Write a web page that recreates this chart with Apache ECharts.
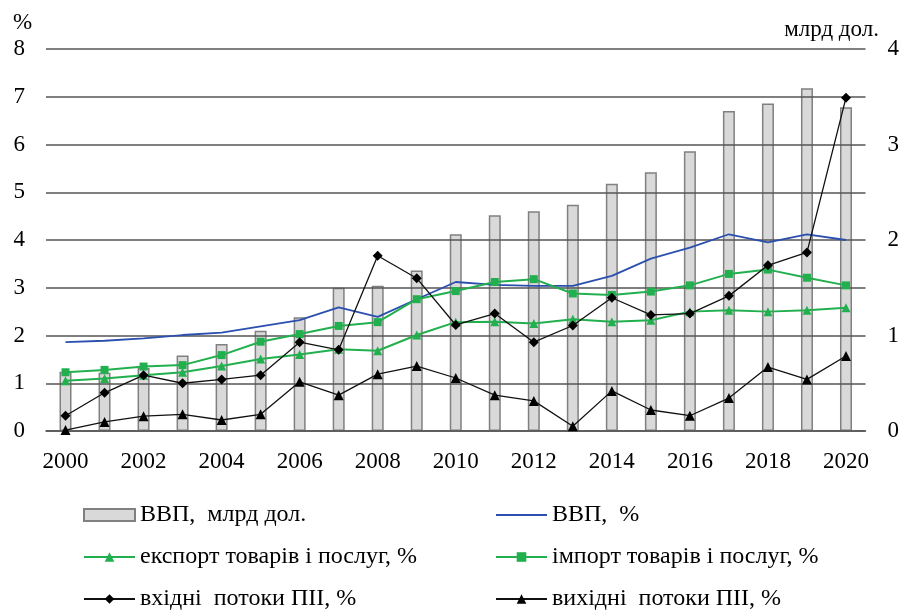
<!DOCTYPE html>
<html>
<head>
<meta charset="utf-8">
<script src="https://cdn.jsdelivr.net/npm/echarts@6/dist/echarts.min.js"></script>
<style>
  html, body { margin: 0; padding: 0; background: #fff; }
  #chart { width: 902px; height: 610px; }
</style>
</head>
<body>
<div id="chart"></div>
<script>
const years = ['2000', '2001', '2002', '2003', '2004', '2005', '2006', '2007', '2008', '2009', '2010',
  '2011', '2012', '2013', '2014', '2015', '2016', '2017', '2018', '2019', '2020']

// ВВП, млрд дол. (права вісь)
const gdpBn = [0.62, 0.61, 0.66, 0.79, 0.91, 1.05, 1.19, 1.50, 1.52, 1.68, 2.06,
  2.26, 2.30, 2.37, 2.59, 2.71, 2.93, 3.35, 3.43, 3.59, 3.39]
// ліва вісь, %
const gdpPct = [1.86, 1.89, 1.94, 2.01, 2.06, 2.19, 2.32, 2.59, 2.39, 2.76, 3.12,
  3.06, 3.04, 3.04, 3.25, 3.61, 3.84, 4.12, 3.95, 4.12, 4.00]
const exportPct = [1.05, 1.10, 1.17, 1.23, 1.36, 1.51, 1.60, 1.71, 1.68, 2.01, 2.28,
  2.29, 2.25, 2.34, 2.29, 2.32, 2.50, 2.53, 2.50, 2.53, 2.58]
const importPct = [1.23, 1.28, 1.35, 1.38, 1.59, 1.87, 2.03, 2.20, 2.28, 2.76, 2.93,
  3.12, 3.18, 2.88, 2.85, 2.92, 3.05, 3.29, 3.38, 3.21, 3.05]
const fdiIn = [0.32, 0.80, 1.17, 1.00, 1.08, 1.17, 1.86, 1.70, 3.67, 3.20, 2.22,
  2.46, 1.86, 2.21, 2.79, 2.43, 2.46, 2.83, 3.47, 3.74, 6.98]
const fdiOut = [0.02, 0.19, 0.31, 0.35, 0.23, 0.35, 1.03, 0.75, 1.19, 1.36, 1.11,
  0.75, 0.63, 0.10, 0.84, 0.44, 0.32, 0.69, 1.34, 1.08, 1.57]

const leftTicks = { min: 0, max: 8, interval: 1 }
const rightTicks = { min: 0, max: 4, interval: 1 }

const font = 'Liberation Serif'
const green = '#22b04e'
const blue = '#2a4fae'
const c = echarts.init(document.getElementById('chart'))

const legendBase = {
  orient: 'vertical', top: 503, height: 200, padding: 0, itemWidth: 51, itemHeight: 12, itemGap: 18,
  textStyle: { fontFamily: font, fontSize: 24, color: '#000' }
}

c.setOption({
  textStyle: { fontFamily: font, color: '#000' },
  animation: false,
  grid: { left: 46, right: 34, top: 49, bottom: 179 },
  graphic: [
    { type: 'text', left: 13, top: 11, style: { text: '%', font: '23px ' + font, fill: '#000' } },
    { type: 'text', right: 23, top: 18, style: { text: 'млрд дол.', font: '23px ' + font, fill: '#000' } }
  ],
  legend: [
    {
      ...legendBase, left: 83,
      data: [
        { name: 'ВВП,  млрд дол.', icon: 'rect' },
        'експорт товарів і послуг, %',
        'вхідні  потоки ПІІ, %'
      ]
    },
    {
      ...legendBase, left: 495,
      data: [
        { name: 'ВВП,  %', itemStyle: { opacity: 0 } },
        'імпорт товарів і послуг, %',
        'вихідні  потоки ПІІ, %'
      ]
    }
  ],
  xAxis: [
    {
      type: 'category', data: years,
      axisLine: { lineStyle: { color: '#555', width: 1.5 } },
      axisTick: { interval: 0, length: 9, lineStyle: { color: '#555', width: 1.5 } },
      axisLabel: { interval: 1, fontSize: 23, color: '#000', margin: 19, fontFamily: font }
    },
    {
      type: 'category', data: years, position: 'bottom',
      axisLine: { show: false },
      axisTick: { inside: true, interval: 0, length: 7, lineStyle: { color: '#555', width: 1.5 } },
      axisLabel: { show: false }
    }
  ],
  yAxis: [
    {
      type: 'value', ...leftTicks, z: 3,
      axisLine: { show: false }, axisTick: { show: false },
      axisLabel: { fontSize: 23, color: '#000', margin: 21, fontFamily: font },
      splitLine: { lineStyle: { color: '#555', width: 1.5 } }
    },
    {
      type: 'value', ...rightTicks, position: 'right',
      axisLine: { show: false }, axisTick: { show: false },
      axisLabel: { fontSize: 23, color: '#000', margin: 22, fontFamily: font },
      splitLine: { show: false }
    }
  ],
  series: [
    {
      name: 'ВВП,  млрд дол.', type: 'bar', yAxisIndex: 1, data: gdpBn, barWidth: 12, z: 2,
      itemStyle: { color: '#d9d9d9', borderColor: '#808080', borderWidth: 1.5 }
    },
    {
      name: 'ВВП,  %', type: 'line', data: gdpPct, z: 5, symbol: 'none',
      lineStyle: { color: blue, width: 1.8 }, itemStyle: { color: blue }
    },
    {
      name: 'експорт товарів і послуг, %', type: 'line', data: exportPct, z: 5,
      symbol: 'triangle', symbolSize: 9,
      lineStyle: { color: green, width: 2 }, itemStyle: { color: green }
    },
    {
      name: 'імпорт товарів і послуг, %', type: 'line', data: importPct, z: 5,
      symbol: 'rect', symbolSize: 8,
      lineStyle: { color: green, width: 2 }, itemStyle: { color: green }
    },
    {
      name: 'вхідні  потоки ПІІ, %', type: 'line', data: fdiIn, z: 6,
      symbol: 'diamond', symbolSize: 10,
      lineStyle: { color: '#111', width: 1.3 }, itemStyle: { color: '#000' }
    },
    {
      name: 'вихідні  потоки ПІІ, %', type: 'line', data: fdiOut, z: 6,
      symbol: 'triangle', symbolSize: 10,
      lineStyle: { color: '#111', width: 1.3 }, itemStyle: { color: '#000' }
    }
  ]
})
</script>
</body>
</html>
